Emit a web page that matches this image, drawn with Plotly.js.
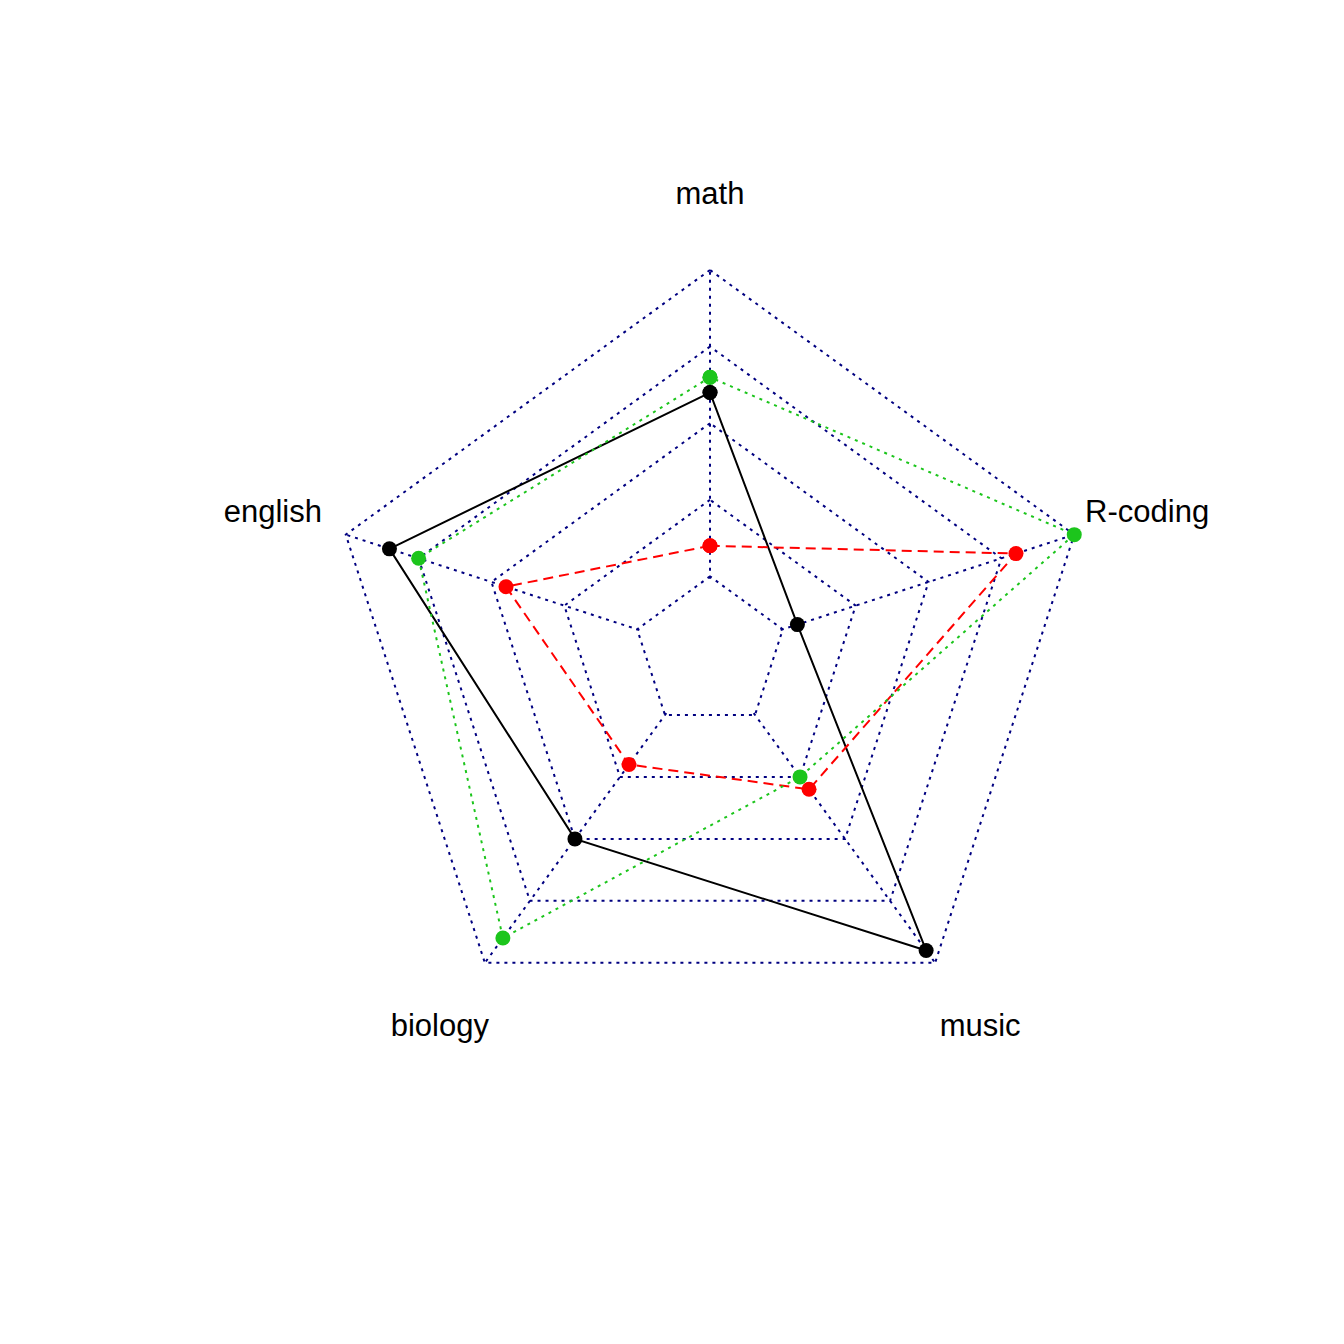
<!DOCTYPE html>
<html>
<head>
<meta charset="utf-8">
<script src="https://cdn.plot.ly/plotly-3.0.1.min.js"></script>
<style>
  html, body { margin: 0; padding: 0; background: #ffffff; }
  #chart { width: 1344px; height: 1344px; }
</style>
</head>
<body>
<div id="chart"></div>
<script>
// Subjects, in counter-clockwise order starting from the top
const subjects = ["math", "english", "biology", "music", "R-coding"];

// Scores (scale 0..20) for each person
const misterA = [12, 17, 10, 19, 1];
const misterB = [2, 9, 4, 6, 16];
const misterC = [13, 15, 18, 5, 20];

const gridLevels = [0, 5, 10, 15, 20];
const labelRadius = 25;   // subject names sit a little beyond the outer ring

// close a polygon by repeating its first vertex
const closed = arr => arr.concat([arr[0]]);

function series(values, color, dash) {
  return {
    type: "scatterpolar",
    subplot: "polar",
    mode: "lines+markers",
    r: closed(values),
    theta: closed(subjects),
    line: { color: color, width: 2, dash: dash },
    marker: { color: color, size: 15 },
    cliponaxis: false,
    hoverinfo: "skip",
    showlegend: false
  };
}

const traces = [
  series(misterA, "#000000", "solid"),
  series(misterB, "#FF0000", "10px,6px"),
  series(misterC, "#1CC51C", "3px,5px"),
  {
    type: "scatterpolar",
    subplot: "polar2",
    mode: "text",
    r: subjects.map(() => labelRadius),
    theta: subjects,
    text: subjects,
    textposition: "middle center",
    textfont: { family: "Liberation Sans, Arial, sans-serif", size: 31, color: "#000000" },
    cliponaxis: false,
    hoverinfo: "skip",
    showlegend: false
  }
];

const hiddenRadial = {
  showticklabels: false, ticks: "", showline: false, showgrid: false
};
const hiddenAngular = {
  type: "category",
  categoryarray: subjects,
  direction: "counterclockwise",
  rotation: 90,
  showticklabels: false, ticks: "", showline: false, showgrid: false
};

const layout = {
  width: 1344,
  height: 1344,
  margin: { l: 0, r: 0, t: 0, b: 0 },
  paper_bgcolor: "#ffffff",
  showlegend: false,
  // web of the radar chart with the three score polygons
  polar: {
    domain: { x: [0.24159, 0.81496], y: [0.22746, 0.80082] },
    bgcolor: "rgba(0,0,0,0)",
    gridshape: "linear",
    hole: 0.1928,
    radialaxis: {
      range: [-0.15, 20.15],
      tickvals: gridLevels,
      showticklabels: false,
      ticks: "",
      showline: false,
      gridcolor: "#000080",
      gridwidth: 2,
      griddash: "3px,5px"
    },
    angularaxis: {
      type: "category",
      categoryarray: subjects,
      direction: "counterclockwise",
      rotation: 90,
      showticklabels: false,
      ticks: "",
      showline: false,
      gridcolor: "#000080",
      gridwidth: 2,
      griddash: "3px,5px"
    }
  },
  // same scale, wider reach, carrying the subject names
  polar2: {
    domain: { x: [0.17113, 0.88542], y: [0.15476, 0.86905] },
    bgcolor: "rgba(0,0,0,0)",
    gridshape: "linear",
    radialaxis: Object.assign({ range: [-5, 26.33] }, hiddenRadial),
    angularaxis: hiddenAngular
  }
};

Plotly.newPlot("chart", traces, layout, { staticPlot: true });
</script>
</body>
</html>
